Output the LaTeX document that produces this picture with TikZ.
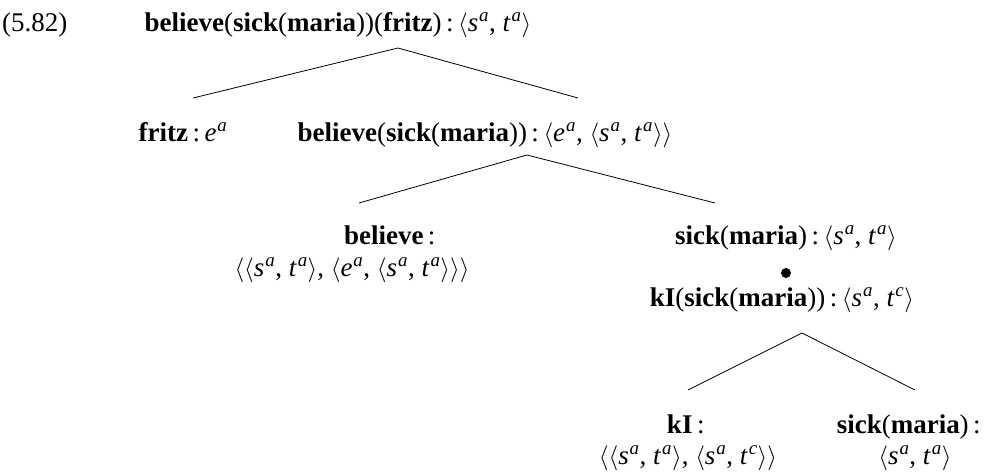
\documentclass[tikz,border=0pt]{standalone}
\usepackage{fontspec}
\setmainfont{Liberation Serif}
\newcommand\tp[2]{\textit{#1}\textsuperscript{\kern0.05em\textit{#2}}}
\newcommand\ang[1]{$\langle$#1$\rangle$}
\newcommand\cln{\,:\,}
\newcommand\B[1]{\textbf{#1}}
\tikzset{lbl/.style={anchor=base,inner sep=0pt,font=\fontsize{27}{31}\selectfont},
  edge/.style={line width=0.8pt}}
\begin{document}
\begin{tikzpicture}[x=1pt,y=-1pt]
\useasboundingbox (0,0) rectangle (1005,475);
\node[lbl,anchor=base west] (num) at (2,31) {(5.82)};
\node[lbl] (root) at (338,31) {\B{believe}(\B{sick}(\B{maria}))(\B{fritz})\cln\ang{\tp{s}{a}, \tp{t}{a}}};
\node[lbl] (fritz) at (183,141) {\B{fritz}\cln\tp{e}{a}};
\node[lbl] (bsm) at (485,141) {\B{believe}(\B{sick}(\B{maria}))\cln\ang{\tp{e}{a}, \ang{\tp{s}{a}, \tp{t}{a}}}};
\node[lbl] (bel1) at (392,244) {\B{believe}\cln};
\node[lbl] (bel2) at (352,276) {\ang{\ang{\tp{s}{a}, \tp{t}{a}}, \ang{\tp{e}{a}, \ang{\tp{s}{a}, \tp{t}{a}}}}};
\node[lbl] (sm) at (786,244) {\B{sick}(\B{maria})\cln\ang{\tp{s}{a}, \tp{t}{a}}};
\node[circle,fill=black,inner sep=0pt,minimum size=10pt] (dot) at (786,273) {};
\node[lbl] (ki) at (782,306) {\B{kI}(\B{sick}(\B{maria}))\cln\ang{\tp{s}{a}, \tp{t}{c}}};
\node[lbl] (k1) at (688,433) {\B{kI}\cln};
\node[lbl] (k2) at (688,464) {\ang{\ang{\tp{s}{a}, \tp{t}{a}}, \ang{\tp{s}{a}, \tp{t}{c}}}};
\node[lbl] (sm2) at (911,433) {\B{sick}(\B{maria})\cln};
\node[lbl] (sm3) at (915,464) {\ang{\tp{s}{a}, \tp{t}{a}}};
\coordinate (r0) at (398,48);
\coordinate (r1) at (193,98);
\coordinate (r2) at (578,98);
\coordinate (b0) at (527,155);
\coordinate (b1) at (359,203);
\coordinate (b2) at (715,203);
\coordinate (c0) at (802,333);
\coordinate (c1) at (688,390);
\coordinate (c2) at (915,390);
\draw[edge] (r1) -- (r0) -- (r2);
\draw[edge] (b1) -- (b0) -- (b2);
\draw[edge] (c1) -- (c0) -- (c2);
\end{tikzpicture}
\end{document}
